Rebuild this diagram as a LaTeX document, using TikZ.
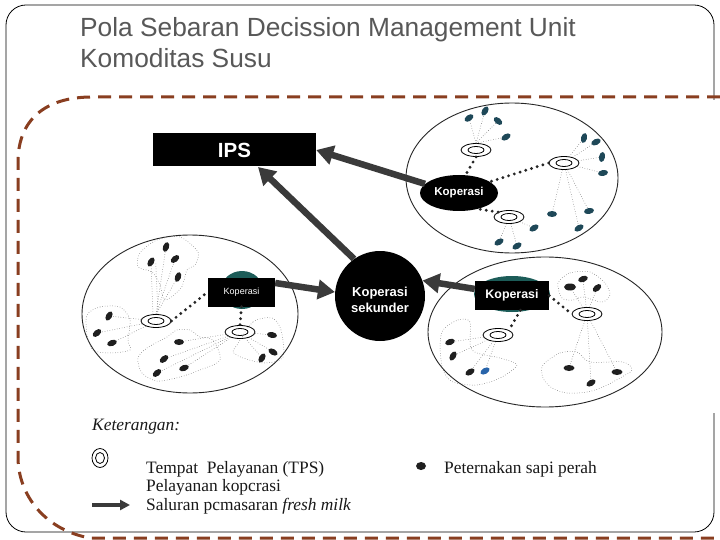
\documentclass[tikz,border=0pt]{standalone}
\usepackage{fontspec}
\setmainfont{Liberation Sans}
\newfontfamily\serifF{Liberation Serif}
\usetikzlibrary{shapes.geometric,arrows.meta,calc}
\definecolor{brownD}{RGB}{137,62,32}
\definecolor{titleG}{RGB}{88,88,88}
\definecolor{dotT}{RGB}{30,72,88}
\definecolor{tealE}{RGB}{28,92,88}
\definecolor{arrG}{RGB}{58,58,58}
\definecolor{blueD}{RGB}{40,100,170}
\definecolor{legT}{RGB}{25,25,25}
\begin{document}
\begin{tikzpicture}[x=1pt,y=-1pt,
  tps/.style={ellipse,draw,line width=0.8pt,minimum width=30pt,minimum height=13pt,inner sep=0pt,
    path picture={\draw[line width=0.8pt] (path picture bounding box.center) ellipse [x radius=8pt,y radius=3.5pt];}},
  farm/.style={ellipse,fill=black!88,minimum width=10pt,minimum height=6pt,inner sep=0pt},
  tfarm/.style={farm,fill=dotT},
  fdot/.style={dotted,line width=0.5pt,draw=black!65},
  blob/.style={dotted,line width=0.5pt,draw=black!65},
  kdot/.style={line width=3.2pt,dash pattern=on 0pt off 6pt,line cap=round,draw=black!85},
  arr/.style={line width=6.5pt,draw=arrG,-{Triangle[length=17pt,width=19pt]}},
  bigc/.style={line width=0.9pt,draw=black!85},
  kbox/.style={rectangle,fill=black,text=white,font=\bfseries,inner sep=0pt},
  leg/.style={anchor=base west,inner sep=0pt,text=legT,font=\serifF\fontsize{17.4}{19}\selectfont}
]
\useasboundingbox (0,0) rectangle (720,540);
\fill[white] (0,0) rectangle (720,540);

% frame
\draw[line width=0.8pt,rounded corners=20pt] (714,100) -- (714,5) -- (6,5) -- (6,532) -- (714,532) -- (714,413);
% dashed brown outline
\draw[brownD,line width=3pt,dash pattern=on 13pt off 8pt]
  (720,97) -- (92,97) .. controls (45,97) and (18,120) .. (18,162) -- (18,457)
  .. controls (18,495) and (45,530) .. (90,538) -- (720,538);

% title
\node[anchor=base west,inner sep=0pt,text=titleG,font=\fontsize{26.3}{30}\selectfont] (t1) at (80,37) {Pola Sebaran Decission Management Unit};
\node[anchor=base west,inner sep=0pt,text=titleG,font=\fontsize{26.3}{30}\selectfont] (t2) at (80,68) {Komoditas Susu};

% ===== big circles
\draw[bigc] (512,178) ellipse [x radius=106, y radius=75];
\draw[bigc] (190,314) ellipse [x radius=108, y radius=79];
\draw[bigc] (545,332) ellipse [x radius=117, y radius=75];

% ===== top circle
\node[tps] (A) at (476,150) {};
\node[tps] (B) at (564,163) {};
\node[tps] (C) at (509,217) {};
\node[tfarm,rotate=35] (ta1) at (469,118) {};
\node[tfarm,rotate=60] (ta2) at (485,111) {};
\node[tfarm,rotate=-40] (ta3) at (498,121) {};
\node[tfarm,rotate=30] (ta4) at (506,137) {};
\node[tfarm,rotate=75] (tb1) at (584,138) {};
\node[tfarm,rotate=25] (tb2) at (596,142) {};
\node[tfarm,rotate=80] (tb3) at (602,157) {};
\node[tfarm,rotate=10] (tb4) at (603,173) {};
\node[tfarm,rotate=10] (tb5) at (589,211) {};
\node[tfarm,rotate=30] (tb6) at (579,228) {};
\node[tfarm,rotate=0] (tb7) at (552,214) {};
\node[tfarm,rotate=30] (tc1) at (534,228) {};
\node[tfarm,rotate=30] (tc2) at (499,242) {};
\node[tfarm,rotate=30] (tc3) at (517,246) {};
\foreach \d in {ta1,ta2,ta3,ta4} \draw[fdot] (A.north) -- (\d);
\foreach \d in {tb1,tb2,tb3,tb4,tb5,tb6,tb7} \draw[fdot] (B) -- (\d);
\foreach \d in {tc1,tc2,tc3} \draw[fdot] (C) -- (\d);
\node[ellipse,fill=black,minimum width=78pt,minimum height=36pt,inner sep=0pt] (K) at (459,193) {};
\draw[kdot] (A.south) -- (K.70);
\draw[kdot] (B.west) -- (K.20);
\draw[kdot] (C.north west) -- (K.-40);
\node[text=white,font=\bfseries\fontsize{11.5}{12}\selectfont,inner sep=0pt] (Kt) at (K) {Koperasi};

% ===== left circle
\node[tps] (L1) at (156,321) {};
\node[tps] (L2) at (240,332) {};
\draw[blob] plot[smooth cycle,tension=0.5] coordinates {(140,253) (157,240) (180,237) (198,252) (195,265) (187,270) (181,288) (165,300) (160,285) (152,272) (138,267)};
\draw[blob] plot[smooth cycle,tension=0.5] coordinates {(87,315) (100,307) (120,307) (130,320) (128,340) (130,350) (110,353) (93,350) (87,335)};
\draw[blob] plot[smooth cycle,tension=0.5] coordinates {(138,358) (147,348) (167,337) (177,330) (190,330) (200,337) (213,340) (220,360) (200,370) (180,377) (157,381) (142,373)};
\draw[blob] plot[smooth cycle,tension=0.5] coordinates {(237,345) (253,322) (272,318) (281,330) (283,357) (265,363) (243,358) (233,352)};
\node[farm,rotate=70] (la1) at (166,247) {};
\node[farm,rotate=60] (la2) at (151,262) {};
\node[farm,rotate=40] (la3) at (175,259) {};
\node[farm,rotate=70] (la4) at (178,277) {};
\node[farm,rotate=60] (lb1) at (109,316) {};
\node[farm,rotate=40] (lb2) at (97,333) {};
\node[farm,rotate=20] (lb3) at (112,343) {};
\node[farm] (lc1) at (179,342) {};
\node[farm,rotate=40] (lc2) at (164,359) {};
\node[farm,rotate=40] (lc3) at (157,373) {};
\node[farm,rotate=20] (lc4) at (184,368) {};
\node[farm,rotate=-10] (ld1) at (272,335) {};
\node[farm,rotate=-30] (ld2) at (273,352) {};
\node[farm,rotate=60] (ld3) at (262,358) {};
\draw[fdot] ([xshift=-3pt]L1.north) -- (la2);
\draw[fdot] ([xshift=2pt]L1.north) -- ([xshift=2pt]la2.south);
\foreach \d in {la1,la3,la4} \draw[fdot] (L1.north) -- (\d);
\foreach \d in {lb1,lb2,lb3} \draw[fdot] (L1) -- (\d);
\foreach \d in {lc1,lc2,lc3,lc4,ld1,ld2,ld3} \draw[fdot] (L2) -- (\d);
\fill[tealE] (242,290) ellipse [x radius=21, y radius=19];
\node[kbox,minimum width=67pt,minimum height=29pt,font=\fontsize{9}{10}\selectfont] (LK) at (241.5,292) {Koperasi};
\draw[kdot] (L1.east) -- (LK.west);
\draw[kdot] (LK.south) -- (L2.north);

% ===== right circle
\node[tps] (R1) at (498,335) {};
\node[tps] (R2) at (587,314) {};
\draw[blob] plot[smooth cycle,tension=0.5] coordinates {(443,330) (458,320) (470,322) (472,350) (500,358) (517,365) (500,378) (477,385) (453,382) (443,370) (440,347)};
\draw[blob] plot[smooth cycle,tension=0.5] coordinates {(558,283) (570,273) (590,272) (605,283) (610,295) (602,302) (583,297) (573,300) (562,298)};
\draw[blob] plot[smooth cycle,tension=0.5] coordinates {(543,365) (560,353) (577,352) (590,362) (623,362) (632,370) (620,378) (603,387) (587,392) (567,393) (552,388) (543,378)};
\node[farm,rotate=20] (ra1) at (450,342) {};
\node[farm,rotate=60] (ra2) at (453,356) {};
\node[farm,rotate=30] (ra3) at (470,372) {};
\node[farm,fill=blueD,rotate=30] (ra4) at (485,371) {};
\node[farm,minimum width=12pt,minimum height=7pt] (rb1) at (570,287) {};
\node[farm,rotate=20] (rb2) at (583,279) {};
\node[farm,rotate=40] (rb3) at (597,288) {};
\node[farm,minimum width=11pt] (rc1) at (569,368) {};
\node[farm,minimum width=11pt] (rc2) at (617,372) {};
\node[farm,rotate=30] (rc3) at (591,383) {};
\foreach \d in {ra1,ra2,ra3,ra4} \draw[fdot] (R1) -- (\d);
\foreach \d in {rb1,rb2,rb3,rc1,rc2,rc3} \draw[fdot] (R2) -- (\d);
\fill[tealE] (512,294) ellipse [x radius=38, y radius=18];
\node[kbox,minimum width=74pt,minimum height=29pt,font=\bfseries\fontsize{12.4}{13}\selectfont] (RK) at (512,295.5) {Koperasi};
\draw[kdot] (RK.-60) -- (R1.north east);
\draw[kdot] (RK.east) -- (R2.west);

% ===== central nodes
\node[kbox,minimum width=163pt,minimum height=33pt,font=\bfseries\fontsize{20.5}{22}\selectfont] (IPS) at (234.5,150) {IPS};
\node[circle,fill=black,minimum size=90pt,inner sep=0pt] (KS) at (380,296) {};
\node[text=white,inner sep=0pt,align=center,font=\bfseries\fontsize{13}{15.5}\selectfont] (KSt) at (380,300) {Koperasi\\sekunder};
\coordinate (ipsS) at (258,167);

% ===== arrows
\draw[arr] (K.165) -- (IPS.east);
\draw[arr] (KS.125) -- (ipsS);
\draw[arr] (LK.15) -- (KS.175);
\draw[arr] (RK.170) -- (KS.20);

% ===== legend
\node[leg,font=\serifF\itshape\fontsize{17.4}{19}\selectfont] (ket) at (92,430) {Keterangan:};
\node[ellipse,draw,line width=0.8pt,minimum width=16pt,minimum height=19pt,inner sep=0pt,
  path picture={\draw[line width=0.8pt] (path picture bounding box.center) ellipse [x radius=4.5pt,y radius=5.5pt];}] (ltps) at (100,458) {};
\node[leg] (lg1) at (146,473) {Tempat\ \ Pelayanan (TPS)};
\node[leg] (lg2) at (146,491) {Pelayanan kopcrasi};
\node[leg] (lg3) at (146,510) {Saluran pcmasaran \textit{fresh milk}};
\coordinate (la0) at (92,505);
\coordinate (la1) at (130,505);
\draw[line width=3.5pt,arrG,-{Triangle[length=10pt,width=10pt]}] (la0) -- (la1);
\node[ellipse,fill=black!88,minimum width=10pt,minimum height=8pt,inner sep=0pt] (lfarm) at (421,466) {};
\node[leg] (lg4) at (444,473) {Peternakan sapi perah};
\end{tikzpicture}
\end{document}
